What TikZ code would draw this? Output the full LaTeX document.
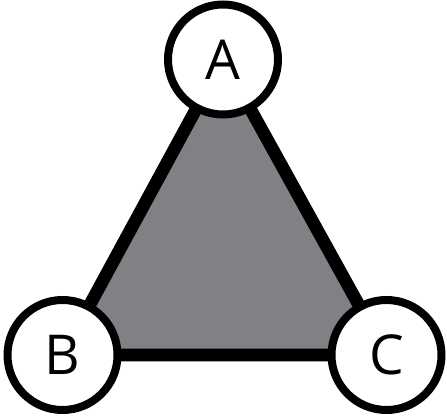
\documentclass[tikz,border=0pt]{standalone}
\usepackage{fontspec}
\setmainfont{Open Sans}
\definecolor{trigray}{RGB}{128,129,132}
\tikzset{
  vertex/.style={circle, draw, fill=white, line width=8pt, minimum size=110pt,
    inner sep=0pt, font=\fontsize{55}{60}\selectfont},
  tri/.style={draw, fill=trigray, line width=12.7pt}
}
\begin{document}
\begin{tikzpicture}[x=1pt,y=1pt]
\useasboundingbox (0,0) rectangle (447,418);
\coordinate (a) at (223,358.5) ;
\coordinate (b) at (62.5,63) ;
\coordinate (c) at (386.5,63) ;
\draw[tri] (a) -- (b) -- (c) -- cycle ;
\draw (a) node[vertex](A) {A} ;
\draw (b) node[vertex](B) {B} ;
\draw (c) node[vertex](C) {C} ;
\end{tikzpicture}
\end{document}
